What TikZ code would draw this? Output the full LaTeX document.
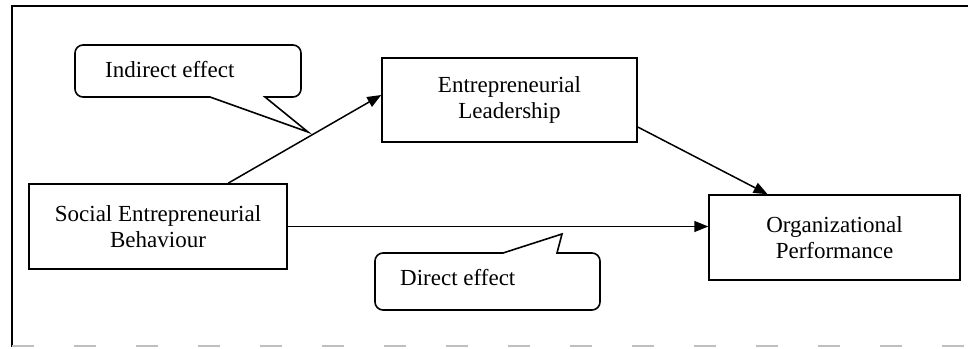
\documentclass[tikz,border=0pt]{standalone}
\usepackage{fontspec}
\setmainfont{Liberation Serif}
\usetikzlibrary{arrows.meta,calc}

\begin{document}
\begin{tikzpicture}[x=1pt,y=-1pt,
    every node/.style={font=\fontsize{23}{26}\selectfont, inner sep=0pt},
    constr/.style={draw, line width=1.5pt, align=center},
    link/.style={line width=1.5pt, -{Triangle[length=14pt,width=11pt]}},
    callout/.style={draw, line width=1.6pt, line cap=round, line join=miter},
    frame/.style={line width=1.8pt}]
  \useasboundingbox (0,0) rectangle (968,348);

  % outer frame
  \draw[frame] (12,347) -- (12,6) -- (968,6);
  \draw[line width=1.4pt, black!25, dash pattern=on 22pt off 40pt] (12,346) -- (968,346);

  % constructs
  \node[constr, minimum width=258pt, minimum height=85pt] (seb) at (158,226.5)
    {Social Entrepreneurial\\Behaviour};
  \node[constr, minimum width=255pt, minimum height=84pt] (el) at (509.5,100)
    {Entrepreneurial\\Leadership};
  \node[constr, minimum width=251pt, minimum height=85pt] (op) at (834.5,237.5)
    {Organizational\\Performance};

  % paths between constructs
  \draw[link] ($(seb.north west)!0.77!(seb.north east)$) -- ([yshift=5pt]el.west);
  \draw[link] ([yshift=-27pt]el.east) -- ($(op.north west)!0.235!(op.north east)$);
  \draw[link] (seb.east) -- (op.west |- seb.east);

  % callout: indirect effect
  \draw[callout] (210,97) -- (308,132) -- (265,97) [rounded corners=8pt]
    -- (301,97) -- (301,45) -- (75,45) -- (75,97) -- (210,97);
  \node[anchor=base west] (indirect) at (105,77) {Indirect effect};

  % callout: direct effect
  \draw[callout] (503,253) -- (562,234) -- (557,253) [rounded corners=8pt]
    -- (600,253) -- (600,310) -- (375,310) -- (375,253) -- (503,253);
  \node[anchor=base west] (direct) at (400,285) {Direct effect};
\end{tikzpicture}
\end{document}
